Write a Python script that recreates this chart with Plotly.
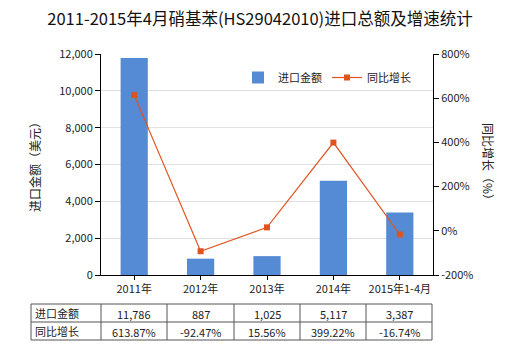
import plotly.graph_objects as go

categories = ["2011年", "2012年", "2013年", "2014年", "2015年1-4月"]
import_values = [11786, 887, 1025, 5117, 3387]
growth_values = [613.87, -92.47, 15.56, 399.22, -16.74]
import_labels = ["11,786", "887", "1,025", "5,117", "3,387"]
growth_labels = ["613.87%", "-92.47%", "15.56%", "399.22%", "-16.74%"]
row_headers = ["进口金额", "同比增长"]
left_ticks = [0, 2000, 4000, 6000, 8000, 10000, 12000]
right_ticks = [-200, 0, 200, 400, 600, 800]

FONT = "Noto Sans CJK SC, Microsoft YaHei, sans-serif"
BAR = "#558BD4"
LINE = "#E0531F"

# plot area in pixels
L, R, T, B = 101, 433, 54, 275
W, H = R - L, B - T

def px(x):
    return (x - L) / W

def py(y):
    return (B - y) / H

fig = go.Figure()
fig.add_trace(go.Bar(x=categories, y=import_values, name="进口金额",
                     marker=dict(color=BAR, line=dict(width=0)), width=0.41,
                     yaxis="y"))
fig.add_trace(go.Scatter(x=categories, y=growth_values, name="同比增长",
                         mode="lines+markers", yaxis="y2",
                         line=dict(color=LINE, width=1.2),
                         marker=dict(symbol="square", size=6, color=LINE)))

shapes = []
annotations = []

# table geometry
tab_top, tab_mid, tab_bot = 304, 322, 340
col_edges = [31, 101, 167, 234, 300, 366, 432]
for yy in (tab_top, tab_mid, tab_bot):
    shapes.append(dict(type="line", xref="paper", yref="paper",
                       x0=px(col_edges[0]), x1=px(col_edges[-1]), y0=py(yy), y1=py(yy),
                       line=dict(color="#555555", width=1)))
for xx in col_edges:
    shapes.append(dict(type="line", xref="paper", yref="paper",
                       x0=px(xx), x1=px(xx), y0=py(tab_top), y1=py(tab_bot),
                       line=dict(color="#555555", width=1)))

rows = [import_labels, growth_labels]
row_centers = [(tab_top + tab_mid) / 2, (tab_mid + tab_bot) / 2]
for r, (hdr, vals) in enumerate(zip(row_headers, rows)):
    annotations.append(dict(xref="paper", yref="paper", x=px(col_edges[0] + 2),
                            y=py(row_centers[r]), text=hdr, showarrow=False,
                            xanchor="left", yanchor="middle",
                            font=dict(size=11, color="#222222", family=FONT)))
    for i, v in enumerate(vals):
        cx = (col_edges[i + 1] + col_edges[i + 2]) / 2
        annotations.append(dict(xref="paper", yref="paper", x=px(cx),
                                y=py(row_centers[r] + 1), text=v, showarrow=False,
                                xanchor="center", yanchor="middle",
                                font=dict(size=11, color="#222222", family=FONT)))

# axis titles
annotations.append(dict(xref="paper", yref="paper", x=px(34), y=py(164),
                        text="进口金额（美元）", showarrow=False, textangle=-90,
                        xanchor="center", yanchor="middle",
                        font=dict(size=12, color="#222222", family=FONT)))
annotations.append(dict(xref="paper", yref="paper", x=px(489), y=py(164),
                        text="同比增长（%）", showarrow=False, textangle=90,
                        xanchor="center", yanchor="middle",
                        font=dict(size=12, color="#222222", family=FONT)))

fig.update_layout(
    width=520, height=350,
    margin=dict(l=L, r=520 - R, t=T, b=350 - B),
    paper_bgcolor="white", plot_bgcolor="white",
    title=dict(text="2011-2015年4月硝基苯(HS29042010)进口总额及增速统计",
               x=0.5, xanchor="center", y=1 - 19 / 350, yanchor="middle",
               font=dict(size=16.5, color="#111111", family=FONT)),
    font=dict(family=FONT, size=11, color="#222222"),
    showlegend=True,
    legend=dict(orientation="h", x=px(238), y=py(63), xanchor="left", yanchor="top",
                bgcolor="rgba(0,0,0,0)", font=dict(size=11, family=FONT),
                itemwidth=30, tracegroupgap=0),
    bargap=0.59,
    xaxis=dict(showline=True, linecolor="#000000", linewidth=1,
               ticks="outside", ticklen=4, tickcolor="#000000",
               tickfont=dict(size=11, family=FONT, color="#222222"),
               showgrid=False),
    yaxis=dict(range=[0, 12000], tickvals=left_ticks,
               tickformat=",d", showline=True, linecolor="#000000", linewidth=1,
               ticks="outside", ticklen=5, tickcolor="#000000",
               showgrid=True, gridcolor="#E0E0E0", gridwidth=1,
               zeroline=False,
               tickfont=dict(size=11, family=FONT, color="#222222")),
    yaxis2=dict(range=[-200, 800], tickvals=right_ticks,
                ticktext=[f"{v}%" for v in right_ticks],
                overlaying="y", side="right", showline=True,
                linecolor="#000000", linewidth=1, ticks="outside", ticklen=5,
                tickcolor="#000000", showgrid=False, zeroline=False,
                tickfont=dict(size=11, family=FONT, color="#222222")),
    shapes=shapes, annotations=annotations,
)

fig.write_html("out.html")
